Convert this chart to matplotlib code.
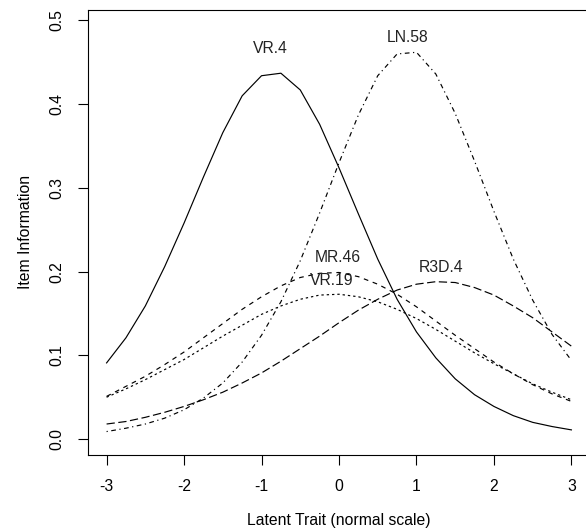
import matplotlib
matplotlib.use("Agg")
import matplotlib.pyplot as plt

plt.rcParams['font.family'] = ['Liberation Sans', 'DejaVu Sans']

# ability grid and item information for each item
theta = [-3.0, -2.75, -2.5, -2.25, -2.0, -1.75, -1.5, -1.25, -1.0, -0.75, -0.5, -0.25,
         0.0, 0.25, 0.5, 0.75, 1.0, 1.25, 1.5, 1.75, 2.0, 2.25, 2.5, 2.75, 3.0]

info_vr4 = [0.091, 0.121, 0.159, 0.206, 0.258, 0.313, 0.366, 0.410, 0.434, 0.437, 0.417, 0.376,
            0.324, 0.269, 0.215, 0.167, 0.128, 0.097, 0.072, 0.053, 0.039, 0.028, 0.020, 0.015, 0.011]
info_vr19 = [0.050, 0.060, 0.071, 0.083, 0.095, 0.109, 0.123, 0.136, 0.149, 0.159, 0.167, 0.172,
             0.173, 0.170, 0.164, 0.155, 0.144, 0.131, 0.117, 0.103, 0.090, 0.078, 0.066, 0.056, 0.047]
info_mr46 = [0.051, 0.063, 0.075, 0.089, 0.104, 0.121, 0.138, 0.155, 0.170, 0.183, 0.193, 0.198,
             0.199, 0.194, 0.185, 0.173, 0.158, 0.141, 0.124, 0.108, 0.092, 0.078, 0.065, 0.054, 0.045]
info_ln58 = [0.009, 0.013, 0.018, 0.025, 0.035, 0.049, 0.067, 0.092, 0.124, 0.164, 0.213, 0.270,
             0.330, 0.387, 0.434, 0.460, 0.462, 0.436, 0.389, 0.332, 0.272, 0.215, 0.166, 0.125, 0.094]
info_r3d4 = [0.018, 0.021, 0.026, 0.032, 0.039, 0.047, 0.056, 0.067, 0.079, 0.093, 0.108, 0.123,
             0.139, 0.154, 0.167, 0.178, 0.185, 0.188, 0.187, 0.181, 0.172, 0.159, 0.145, 0.128, 0.111]

items = ['VR.4', 'VR.19', 'MR.46', 'LN.58', 'R3D.4']
# label anchor for each item: (theta, information)
label_x = [-0.88, -0.10, -0.02, 0.88, 1.32]
label_y = [0.467, 0.189, 0.217, 0.480, 0.205]

curves = [info_vr4, info_vr19, info_mr46, info_ln58, info_r3d4]
dashes = [None, (2, 2.5), (4, 4), (1, 3, 4, 3), (7, 3)]

fig = plt.figure(figsize=(5.86, 5.32), dpi=100)
W, H = 586, 532
ax = fig.add_axes([88 / W, (H - 455) / H, (590 - 88) / W, (455 - 10) / H])

for vals, d in zip(curves, dashes):
    line, = ax.plot(theta, vals, color='black', lw=0.85)
    if d is not None:
        line.set_dashes(d)

for name, lx, ly in zip(items, label_x, label_y):
    ax.text(lx, ly, name, ha='center', va='center', fontsize=11.3, color='#222222')

ax.set_xlim(-3.24, 3.24)
ax.set_ylim(-0.019, 0.5125)
ax.set_xticks([-3, -2, -1, 0, 1, 2, 3])
ax.set_xticklabels(['-3', '-2', '-1', '0', '1', '2', '3'])
ax.set_yticks([0.0, 0.1, 0.2, 0.3, 0.4, 0.5])
ax.set_yticklabels(['0.0', '0.1', '0.2', '0.3', '0.4', '0.5'], rotation=90, va='center')
ax.tick_params(length=7, width=0.8, labelsize=11.3, pad=10, colors='black')
for s in ax.spines.values():
    s.set_linewidth(0.8)

fig.text(338.6 / W, 1 - 521 / H, 'Latent Trait (normal scale)', ha='center', va='center',
         fontsize=11.3)
fig.text(25 / W, 1 - 232 / H, 'Item Information', ha='center', va='center',
         rotation=90, fontsize=11.3)

fig.savefig('out.png', dpi=100)
